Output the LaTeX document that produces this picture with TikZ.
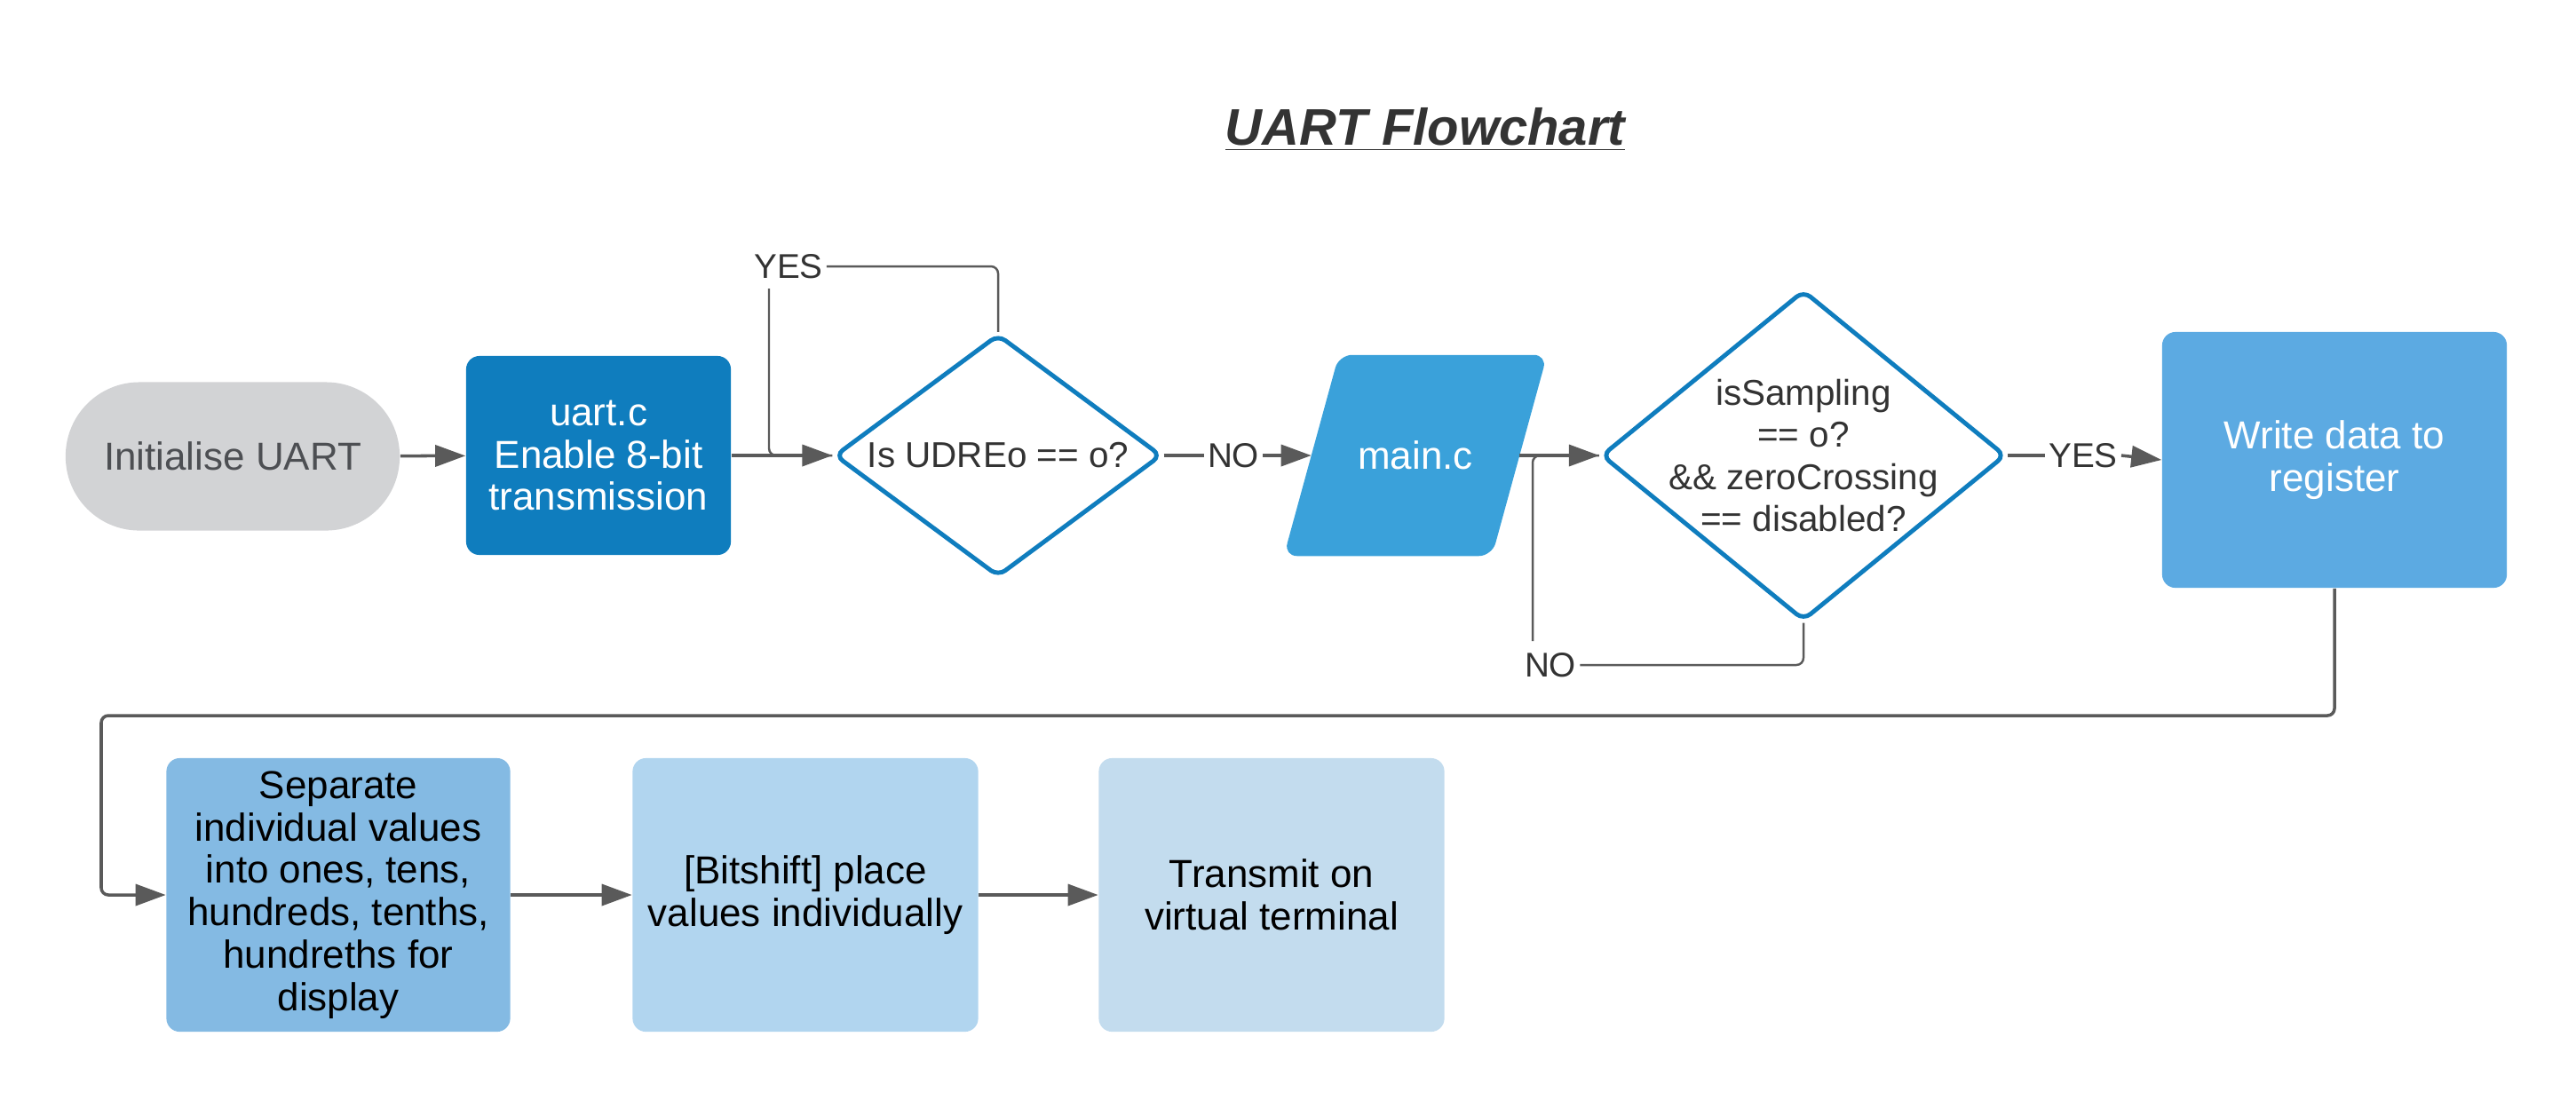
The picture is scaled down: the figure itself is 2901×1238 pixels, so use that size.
\documentclass[tikz,border=0pt]{standalone}
\usepackage{fontspec}
\setmainfont{Liberation Sans}
\usetikzlibrary{shapes.geometric,arrows.meta,positioning}
\definecolor{cinit}{HTML}{D2D3D5}
\definecolor{cinittxt}{HTML}{4D4F53}
\definecolor{cuart}{HTML}{0F7DBE}
\definecolor{cmain}{HTML}{3AA1DA}
\definecolor{cwrite}{HTML}{5CAAE2}
\definecolor{csep}{HTML}{84BAE3}
\definecolor{cbit}{HTML}{B1D5EF}
\definecolor{ctrans}{HTML}{C3DCEE}
\definecolor{cline}{HTML}{5A5A5A}
\definecolor{ctxt}{HTML}{333333}
\begin{document}
\begin{tikzpicture}[x=0.01cm,y=-0.01cm,
  boxtext/.style={align=center, font=\fontsize{12.5}{13.6}\selectfont},
  procbox/.style={rectangle, rounded corners=0.15cm, inner sep=0pt, boxtext},
  dia/.style={diamond, draw=cuart, line width=1.4pt, fill=white, rounded corners=0.1cm, inner sep=0pt},
  diatext/.style={align=center, text=ctxt, font=\fontsize{11.5}{13.5}\selectfont},
  lbl/.style={text=ctxt, font=\fontsize{11}{13}\selectfont, inner sep=1pt},
  conn/.style={draw=cline, line width=1pt, -{Triangle[length=0.34cm,width=0.24cm]}},
  loopl/.style={draw=cline, line width=0.7pt, rounded corners=0.08cm}
]
\useasboundingbox (0,0) rectangle (2901,1238);

% title
\node[text=ctxt, font=\fontsize{16.5}{20}\selectfont\bfseries\itshape] (title) at (1605,146) {\underline{UART Flowchart}};

% top row
\node[procbox, fill=cinit, text=cinittxt, rounded corners=0.83cm, minimum width=3.76cm, minimum height=1.67cm] (init) at (262,514) {Initialise UART};
\node[procbox, fill=cuart, text=white, minimum width=2.98cm, minimum height=2.24cm] (uart) at (674,513) {uart.c\\Enable 8-bit\\transmission};
\node[dia, minimum width=3.68cm, minimum height=2.73cm] (d1) at (1124,513) {};
\node[diatext] (d1t) at (d1.center) {Is UDREo == o?};
% main.c parallelogram
\node[rectangle, inner sep=0pt, minimum width=2.33cm, minimum height=2.25cm] (main) at (1594,513) {};
\fill[cmain, rounded corners=0.15cm] ([xshift=0.31cm]main.north west) -- ([xshift=0.31cm]main.north east) -- ([xshift=-0.31cm]main.south east) -- ([xshift=-0.31cm]main.south west) -- cycle;
\node[boxtext, text=white] (maint) at (main.center) {main.c};
\node[dia, minimum width=4.55cm, minimum height=3.72cm] (d2) at (2031,513) {};
\node[diatext] (d2t) at (d2.center) {isSampling\\== o?\\\&\& zeroCrossing\\== disabled?};
\node[procbox, fill=cwrite, text=white, minimum width=3.88cm, minimum height=2.88cm] (write) at (2629,518) {Write data to\\register};

% bottom row
\node[procbox, fill=csep, text=black, minimum width=3.87cm, minimum height=3.08cm] (sep) at (381,1008) {Separate\\individual values\\into ones, tens,\\hundreds, tenths,\\hundreths for\\display};
\node[procbox, fill=cbit, text=black, minimum width=3.89cm, minimum height=3.08cm] (bit) at (907,1008) {[Bitshift] place\\values individually};
\node[procbox, fill=ctrans, text=black, minimum width=3.89cm, minimum height=3.08cm] (trans) at (1432,1008) {Transmit on\\virtual terminal};

% labels
\node[lbl] (yes1) at (888,300) {YES};
\node[lbl] (no1) at (1389,513) {NO};
\node[lbl] (no2) at (1746,749) {NO};
\node[lbl] (yes2) at (2346,513) {YES};
\coordinate (y1) at (866,325);
\coordinate (n2) at (1726,722);
\coordinate (c1) at (114,806);

% connectors
\draw[conn] (init) -- (uart);
\draw[loopl] (d1.north) |- (yes1.east);
\draw[loopl] (y1) |- (d1.west);
\draw[conn] (uart) -- (d1);
\draw[draw=cline, line width=1pt] (d1.east) -- (no1.west);
\draw[conn] (no1.east) -- (main.west);
\draw[loopl] (d2.south) |- (no2.east);
\draw[loopl] (n2) |- (d2.west);
\draw[conn] (main.east) -- (d2.west);
\draw[draw=cline, line width=1pt] (d2.east) -- (yes2.west);
\draw[conn] (yes2.east) -- (write.west);
\draw[conn, rounded corners=0.08cm] (write.south) |- (c1) |- (sep.west);
\draw[conn] (sep) -- (bit);
\draw[conn] (bit) -- (trans);
\end{tikzpicture}
\end{document}
